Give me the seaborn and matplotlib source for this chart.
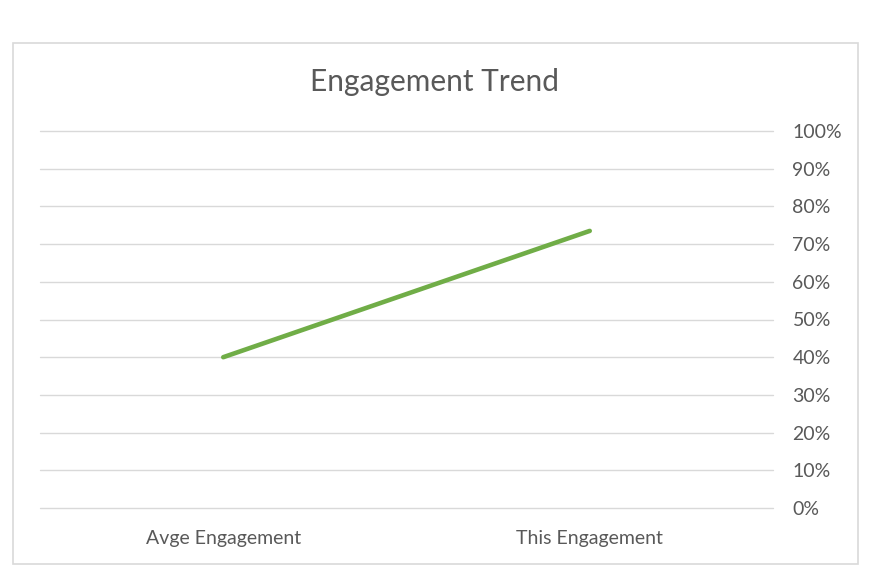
import matplotlib
matplotlib.use("Agg")
import matplotlib.pyplot as plt
import seaborn as sns
import pandas as pd
from matplotlib.patches import Rectangle
from matplotlib.ticker import PercentFormatter

categories = ["Avge Engagement", "This Engagement"]
engagement = [0.40, 0.735]
y_ticks = [0.0, 0.1, 0.2, 0.3, 0.4, 0.5, 0.6, 0.7, 0.8, 0.9, 1.0]

sns.set_theme(style="white")
plt.rcParams["font.family"] = ["Lato", "DejaVu Sans"]

W, H = 881, 583
fig = plt.figure(figsize=(W / 100, H / 100), dpi=100)
ax = fig.add_axes([40 / W, 1 - 508 / H, (773 - 40) / W, (508 - 131) / H])

# chart border
fig.patches.append(Rectangle((12.5 / W, 1 - 563.5 / H), 845.5 / W, 521 / H,
                             transform=fig.transFigure, fill=False,
                             edgecolor="#d9d9d9", linewidth=1.2))

df = pd.DataFrame({"x": range(len(categories)), "y": engagement})
sns.lineplot(data=df, x="x", y="y", ax=ax, color="#70ad47", linewidth=3.3,
             solid_capstyle="round")

ax.set_xlim(-0.5, len(categories) - 0.5)
ax.set_ylim(0, 1)
ax.set_xticks(range(len(categories)))
ax.set_xticklabels(categories)
ax.set_yticks(y_ticks)
ax.yaxis.set_major_formatter(PercentFormatter(1.0, decimals=0))
ax.yaxis.tick_right()
ax.tick_params(axis="y", length=0, pad=14, labelsize=14, labelcolor="#595959")
ax.tick_params(axis="x", length=0, pad=15.5, labelsize=14, labelcolor="#595959")
ax.set_xlabel("")
ax.set_ylabel("")
ax.grid(axis="y", color="#d9d9d9", linewidth=1.0)
for gl in ax.yaxis.get_gridlines():
    gl.set_clip_on(False)
ax.set_axisbelow(True)
for s in ax.spines.values():
    s.set_visible(False)

fig.text(435 / W, 1 - 82 / H, "Engagement Trend", ha="center", va="center",
         fontsize=21.5, color="#595959")

fig.savefig("out.png", dpi=100)
